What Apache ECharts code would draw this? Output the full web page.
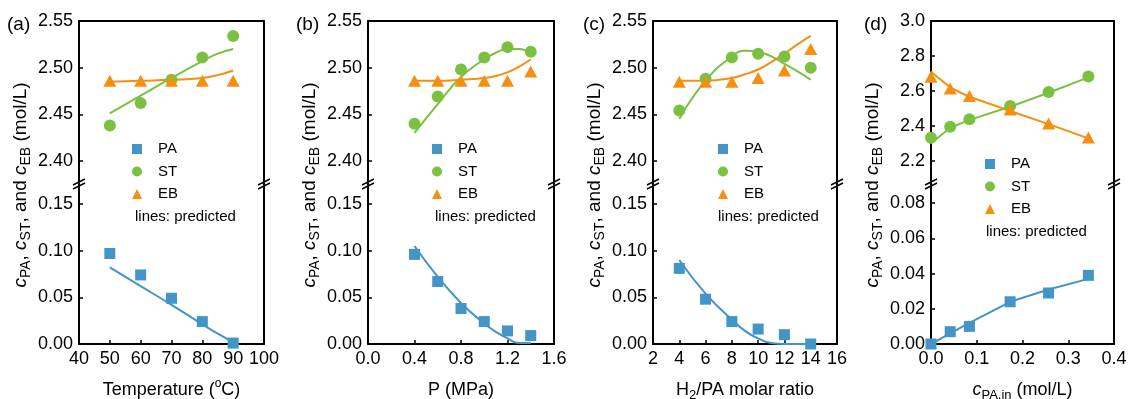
<!DOCTYPE html>
<html>
<head>
<meta charset="utf-8">
<script src="https://cdn.jsdelivr.net/npm/echarts@6/dist/echarts.min.js"></script>
<style>
  html, body { margin: 0; padding: 0; background: #fff; }
  #chart { width: 1129px; height: 399px; }
</style>
</head>
<body>
<div id="chart"></div>
<script>
// ---- data ----
// (a) temperature
const tempX = [50, 60, 70, 80, 90];
const tempPA = [0.097, 0.074, 0.049, 0.024, 0.001];
const tempST = [2.438, 2.462, 2.487, 2.511, 2.534];
const tempEB = [2.486, 2.486, 2.486, 2.486, 2.486];
const tempFitX = [50, 60, 70, 80, 85, 90];
const tempFitPA = [0.082, 0.062, 0.042, 0.021, 0.011, 0.002];
const tempFitST = [2.451, 2.470, 2.489, 2.507, 2.515, 2.520];
const tempFitEB = [2.485, 2.486, 2.487, 2.489, 2.492, 2.497];

// (b) pressure
const presX = [0.4, 0.6, 0.8, 1.0, 1.2, 1.4];
const presPA = [0.096, 0.067, 0.038, 0.024, 0.014, 0.009];
const presST = [2.440, 2.469, 2.498, 2.511, 2.522, 2.517];
const presEB = [2.486, 2.486, 2.486, 2.486, 2.486, 2.496];
const presFitX = [0.4, 0.6, 0.8, 1.0, 1.1, 1.2, 1.3, 1.4];
const presFitPA = [0.105, 0.072, 0.044, 0.022, 0.013, 0.006, 0.001, 0.001];
const presFitST = [2.430, 2.461, 2.490, 2.509, 2.516, 2.520, 2.520, 2.515];
const presFitEB = [2.486, 2.486, 2.487, 2.489, 2.491, 2.495, 2.501, 2.509];

// (c) H2/PA molar ratio
const ratioX = [4, 6, 8, 10, 12, 14];
const ratioPA = [0.081, 0.048, 0.024, 0.016, 0.010, 0.000];
const ratioST = [2.454, 2.488, 2.511, 2.515, 2.512, 2.500];
const ratioEB = [2.485, 2.485, 2.485, 2.489, 2.497, 2.520];
const ratioFitX = [4, 6, 8, 9, 10, 11, 12, 13, 14];
const ratioFitPA = [0.090, 0.054, 0.026, 0.014, 0.006, 0.001, 0.000, 0.000, 0.000];
const ratioFitST = [2.445, 2.486, 2.512, 2.518, 2.517, 2.512, 2.504, 2.496, 2.487];
const ratioFitEB = [2.486, 2.486, 2.489, 2.493, 2.498, 2.506, 2.515, 2.525, 2.534];

// (d) inlet PA concentration
const feedX = [0, 0.042, 0.084, 0.173, 0.257, 0.344];
const feedPA = [0.000, 0.007, 0.010, 0.024, 0.029, 0.039];
const feedST = [2.333, 2.396, 2.438, 2.514, 2.594, 2.683];
const feedEB = [2.682, 2.615, 2.572, 2.494, 2.415, 2.335];
const feedFitX = [0, 0.042, 0.084, 0.173, 0.257, 0.344];
const feedFitPA = [0.000, 0.006, 0.012, 0.024, 0.031, 0.037];
const feedFitST = [2.301, 2.390, 2.435, 2.510, 2.590, 2.678];
const feedFitEB = [2.710, 2.620, 2.567, 2.486, 2.411, 2.329];

// tick labels
const upTicksABC = [2.40, 2.45, 2.50, 2.55];
const lowTicksABC = [0, 0.05, 0.10, 0.15];
const upTicksD = [2.2, 2.4, 2.6, 2.8, 3.0];
const lowTicksD = [0, 0.02, 0.04, 0.06, 0.08];

// ---- styling ----
const FONT = '"Liberation Sans", Arial, Helvetica, sans-serif';
const INK = '#000';
const COLORS = { PA: '#4394c7', ST: '#7ac142', EB: '#f48f11' };
const PLOT_TOP = 21, PLOT_BREAK = 183, PLOT_BOTTOM = 344;

const panels = [
    { tag: '(a)', tagX: 7, left: 79, right: 264,
      xMin: 40, xMax: 100, xStep: 10, xDigits: 0,
      xName: '{n|Temperature (}{sup|o}{n|C)}',
      upMin: 2.3764, upMax: 2.55, upTicks: upTicksABC, upDigits: 2,
      lowMax: 0.1725, lowTicks: lowTicksABC, lowDigits: 2,
      x: tempX, pa: tempPA, st: tempST, eb: tempEB,
      fitX: tempFitX, fitPA: tempFitPA, fitST: tempFitST, fitEB: tempFitEB, smooth: 0.5,
      legendX: 137, legendY: 149, noteX: 135, noteY: 216.5 },
    { tag: '(b)', tagX: 296, left: 368, right: 554,
      xMin: 0, xMax: 1.6, xStep: 0.4, xDigits: 1,
      xName: '{n|P (MPa)}',
      upMin: 2.3764, upMax: 2.55, upTicks: upTicksABC, upDigits: 2,
      lowMax: 0.1725, lowTicks: lowTicksABC, lowDigits: 2,
      x: presX, pa: presPA, st: presST, eb: presEB,
      fitX: presFitX, fitPA: presFitPA, fitST: presFitST, fitEB: presFitEB, smooth: 0.5,
      legendX: 437, legendY: 149, noteX: 435, noteY: 216.5 },
    { tag: '(c)', tagX: 583, left: 653, right: 837,
      xMin: 2, xMax: 16, xStep: 2, xDigits: 0,
      xName: '{n|H}{sub|2}{n|/PA molar ratio}',
      upMin: 2.3764, upMax: 2.55, upTicks: upTicksABC, upDigits: 2,
      lowMax: 0.1725, lowTicks: lowTicksABC, lowDigits: 2,
      x: ratioX, pa: ratioPA, st: ratioST, eb: ratioEB,
      fitX: ratioFitX, fitPA: ratioFitPA, fitST: ratioFitST, fitEB: ratioFitEB, smooth: 0.5,
      legendX: 723, legendY: 149, noteX: 718, noteY: 216.5 },
    { tag: '(d)', tagX: 864, left: 931, right: 1114,
      xMin: 0, xMax: 0.4, xStep: 0.1, xDigits: 1,
      xName: '{it|c}{sub|PA,in}{n| (mol/L)}',
      upMin: 2.0743, upMax: 3.0, upTicks: upTicksD, upDigits: 1,
      lowMax: 0.0915, lowTicks: lowTicksD, lowDigits: 2,
      x: feedX, pa: feedPA, st: feedST, eb: feedEB,
      fitX: feedFitX, fitPA: feedFitPA, fitST: feedFitST, fitEB: feedFitEB, smooth: false,
      legendX: 990, legendY: 164, noteX: 986, noteY: 231.5 }
];

const nameRich = {
    n: { fontSize: 18, fontFamily: FONT, color: INK, lineHeight: 24 },
    it: { fontSize: 18, fontFamily: FONT, color: INK, fontStyle: 'italic', lineHeight: 24 },
    sub: { fontSize: 13, fontFamily: FONT, color: INK, lineHeight: 13, verticalAlign: 'bottom' },
    sup: { fontSize: 12, fontFamily: FONT, color: INK, lineHeight: 12, verticalAlign: 'top' }
};

const yNameRich = {
    n: { fontSize: 19, fontFamily: FONT, fill: INK, lineHeight: 25 },
    i: { fontSize: 19, fontFamily: FONT, fill: INK, fontStyle: 'italic', lineHeight: 25 },
    s: { fontSize: 14, fontFamily: FONT, fill: INK, lineHeight: 14, verticalAlign: 'bottom' }
};
const yNameText = '{i|c}{s|PA}{n|, }{i|c}{s|ST}{n|, and }{i|c}{s|EB}{n| (mol/L)}';

const axisLine = { show: true, onZero: false, lineStyle: { color: INK, width: 2 } };
const tickStyle = { inside: true, length: 4, lineStyle: { color: INK, width: 1.5 } };
const labelStyle = { color: INK, fontSize: 18, fontFamily: FONT };

const pairs = (xs, ys) => xs.map((v, k) => [v, ys[k]]);

const grid = [], xAxis = [], yAxis = [], series = [], legend = [], graphic = [];

panels.forEach((p, i) => {
    const width = p.right - p.left;
    grid.push(
        { left: p.left, width, top: PLOT_TOP, height: PLOT_BREAK - PLOT_TOP, outerBoundsMode: 'none' },
        { left: p.left, width, top: PLOT_BREAK, height: PLOT_BOTTOM - PLOT_BREAK, outerBoundsMode: 'none' }
    );

    // top frame edge
    xAxis.push({
        gridIndex: 2 * i, type: 'value', position: 'top', min: p.xMin, max: p.xMax,
        axisLine, axisTick: { show: false }, axisLabel: { show: false }, splitLine: { show: false }
    });
    // real x axis
    xAxis.push({
        gridIndex: 2 * i + 1, type: 'value', position: 'bottom', min: p.xMin, max: p.xMax, interval: p.xStep,
        axisLine, axisTick: tickStyle,
        axisLabel: { ...labelStyle, margin: 6, formatter: v => v.toFixed(p.xDigits) },
        splitLine: { show: false },
        name: p.xName, nameLocation: 'middle', nameGap: 34,
        nameTextStyle: { fontSize: 18, fontFamily: FONT, color: INK, rich: nameRich }
    });

    yAxis.push(
        { gridIndex: 2 * i, type: 'value', position: 'left', min: p.upMin, max: p.upMax,
          axisLine, axisTick: { ...tickStyle, customValues: p.upTicks },
          axisLabel: { ...labelStyle, margin: 6, customValues: p.upTicks, formatter: v => v.toFixed(p.upDigits) },
          splitLine: { show: false } },
        { gridIndex: 2 * i, type: 'value', position: 'right', min: p.upMin, max: p.upMax,
          axisLine, axisTick: { show: false }, axisLabel: { show: false }, splitLine: { show: false } },
        { gridIndex: 2 * i + 1, type: 'value', position: 'left', min: 0, max: p.lowMax,
          axisLine, axisTick: { ...tickStyle, customValues: p.lowTicks },
          axisLabel: { ...labelStyle, margin: 6, customValues: p.lowTicks, formatter: v => v.toFixed(p.lowDigits) },
          splitLine: { show: false } },
        { gridIndex: 2 * i + 1, type: 'value', position: 'right', min: 0, max: p.lowMax,
          axisLine, axisTick: { show: false }, axisLabel: { show: false }, splitLine: { show: false } }
    );

    const up = { xAxisIndex: 2 * i, yAxisIndex: 4 * i };
    const low = { xAxisIndex: 2 * i + 1, yAxisIndex: 4 * i + 2 };

    // predicted curves
    [['PA', p.fitPA, low], ['ST', p.fitST, up], ['EB', p.fitEB, up]].forEach(([key, ys, ax]) => {
        series.push({
            type: 'line', name: key + ' predicted ' + p.tag, ...ax,
            data: pairs(p.fitX, ys), smooth: p.smooth, symbol: 'none',
            lineStyle: { color: COLORS[key], width: 2 }, itemStyle: { color: COLORS[key] }, z: 2
        });
    });
    // measured points
    series.push(
        { type: 'scatter', name: 'PA', ...low, data: pairs(p.x, p.pa), symbol: 'rect', symbolSize: 11,
          itemStyle: { color: COLORS.PA, opacity: 1 }, clip: false, z: 3 },
        { type: 'scatter', name: 'ST', ...up, data: pairs(p.x, p.st), symbol: 'circle', symbolSize: 12,
          itemStyle: { color: COLORS.ST, opacity: 1 }, clip: false, z: 3 },
        { type: 'scatter', name: 'EB', ...up, data: pairs(p.x, p.eb), symbol: 'triangle', symbolSize: [13, 12],
          itemStyle: { color: COLORS.EB, opacity: 1 }, clip: false, z: 3 }
    );

    legend.push({
        orient: 'vertical', left: p.legendX - 5, top: p.legendY - 7.5, padding: 0,
        itemWidth: 10, itemHeight: 10, itemGap: 7.5, selectedMode: false, symbolKeepAspect: true,
        textStyle: { fontSize: 15, fontFamily: FONT, color: INK, padding: [0, 0, 0, 11] },
        data: [{ name: 'PA', icon: 'rect' }, { name: 'ST', icon: 'circle' }, { name: 'EB', icon: 'triangle' }]
    });

    // axis break marks
    [p.left, p.right].forEach(x => graphic.push({
        type: 'group', x, y: PLOT_BREAK + 1, z: 100, children: [
            { type: 'polygon', shape: { points: [[-6, 1], [6, -5], [6, -1], [-6, 5]] }, style: { fill: '#fff' } },
            { type: 'line', shape: { x1: -6, y1: 1, x2: 6, y2: -5 }, style: { stroke: INK, lineWidth: 1.5 } },
            { type: 'line', shape: { x1: -6, y1: 5, x2: 6, y2: -1 }, style: { stroke: INK, lineWidth: 1.5 } }
        ]
    }));

    graphic.push(
        { type: 'text', x: p.tagX, y: 25, z: 100,
          style: { text: p.tag, fontSize: 19, fontFamily: FONT, fill: INK, align: 'left', verticalAlign: 'middle' } },
        { type: 'text', x: p.left - 58, y: 185, rotation: Math.PI / 2, z: 100,
          style: { text: yNameText, rich: yNameRich, fontSize: 19, fontFamily: FONT, fill: INK,
                   align: 'center', verticalAlign: 'middle' } },
        { type: 'text', x: p.noteX, y: p.noteY, z: 100,
          style: { text: 'lines: predicted', fontSize: 15, fontFamily: FONT, fill: INK,
                   align: 'left', verticalAlign: 'middle' } }
    );
});

const chart = echarts.init(document.getElementById('chart'), null, { renderer: 'canvas' });
chart.setOption({
    animation: false,
    backgroundColor: '#fff',
    textStyle: { fontFamily: FONT },
    grid, xAxis, yAxis, series, legend, graphic
});
</script>
</body>
</html>
